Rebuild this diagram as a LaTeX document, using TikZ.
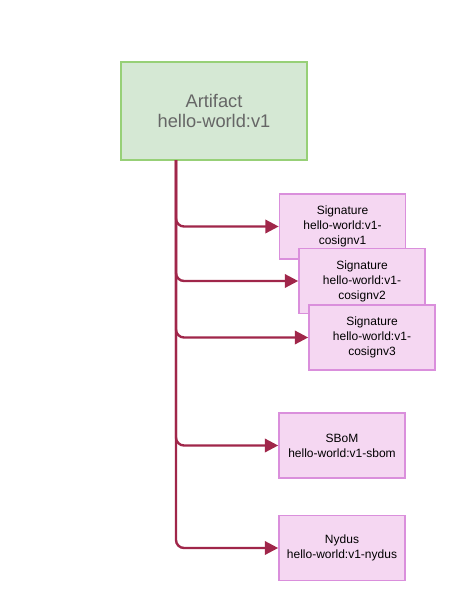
\documentclass[tikz,border=0pt]{standalone}
\usepackage{fontspec}
\setmainfont{Liberation Sans}
\usetikzlibrary{arrows.meta}
\definecolor{grfill}{HTML}{D5E8D4}
\definecolor{grline}{HTML}{97D077}
\definecolor{pkfill}{HTML}{F5D7F2}
\definecolor{pkline}{HTML}{DA8FDC}
\definecolor{edge}{HTML}{A0264A}
\definecolor{txtgrey}{HTML}{666666}
\tikzset{
  x=0.75pt, y=-0.75pt,
  artbox/.style={draw=grline, fill=grfill, line width=1.5pt, minimum width=139.5pt, minimum height=73.5pt, inner sep=0pt, align=center, font=\fontsize{13.7}{14.5}\selectfont, text=txtgrey},
  pkbox/.style={draw=pkline, fill=pkfill, line width=1.2pt, minimum width=94.5pt, minimum height=48.75pt, inner sep=0pt, align=center, font=\fontsize{9}{11.25}\selectfont, text=black},
  conn/.style={draw=edge, line width=1.8pt, rounded corners=6pt, -{Triangle[length=10pt,width=10pt]}}
}
\begin{document}
\begin{tikzpicture}
\useasboundingbox (0,0) rectangle (457,600);
\node[artbox] (art) at (214,111) {Artifact\\hello-world:v1};
\coordinate (trunk) at (176,160);
\node[pkbox] (sig1) at (342.5,226.5) {Signature\\hello-world:v1-\\cosignv1};
\node[pkbox] (sig2) at (362,281) {Signature\\hello-world:v1-\\cosignv2};
\node[pkbox] (sig3) at (372,337.5) {Signature\\hello-world:v1-\\cosignv3};
\node[pkbox] (sbom) at (342,445.5) {SBoM\\hello-world:v1-sbom};
\node[pkbox] (nyd) at (342,548) {Nydus\\hello-world:v1-nydus};
\draw[conn] (trunk) |- (sig1.west);
\draw[conn] (trunk) |- (sig2.west);
\draw[conn] (trunk) |- (sig3.west);
\draw[conn] (trunk) |- (sbom.west);
\draw[conn] (trunk) |- (nyd.west);
\end{tikzpicture}
\end{document}
